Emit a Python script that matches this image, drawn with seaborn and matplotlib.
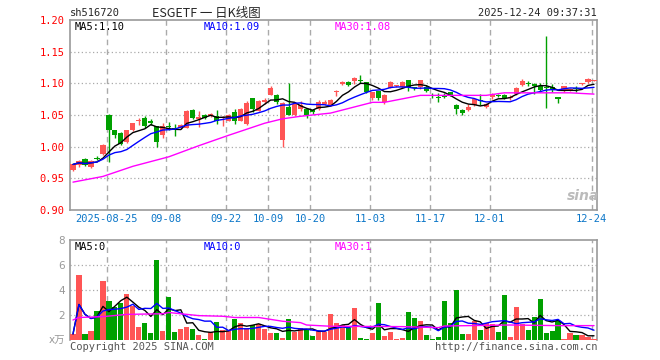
import numpy as np
import pandas as pd
import matplotlib
matplotlib.use("Agg")
import matplotlib.pyplot as plt
import seaborn as sns

# daily candles, 2025-08-15 .. 2025-12-24
opens = [0.963, 0.971, 0.980, 0.968, 0.982, 0.988, 1.050, 1.026, 1.022, 1.008,
         1.026, 1.040, 1.046, 1.041, 1.032, 1.018, 1.032, 1.029, 1.029, 1.030,
         1.058, 1.044, 1.050, 1.048, 1.049, 1.046, 1.041, 1.054, 1.041, 1.036,
         1.077, 1.057, 1.070, 1.082, 1.082, 1.010, 1.062, 1.050, 1.059, 1.060,
         1.058, 1.060, 1.068, 1.066, 1.086, 1.099, 1.102, 1.104, 1.106, 1.102,
         1.077, 1.088, 1.070, 1.093, 1.096, 1.094, 1.105, 1.0925, 1.094, 1.095,
         1.080, 1.077, 1.0795, 1.0865, 1.066, 1.058, 1.058, 1.066, 1.0725, 1.062,
         1.079, 1.0812, 1.082, 1.077, 1.083, 1.097, 1.1005, 1.099, 1.0965, 1.095,
         1.095, 1.0785, 1.088, 1.089, 1.0912, 1.0985, 1.1025, 1.104]
closes = [0.972, 0.977, 0.971, 0.978, 0.981, 1.002, 1.026, 1.018, 1.004, 1.026,
          1.037, 1.041, 1.033, 1.037, 1.008, 1.033, 1.031, 1.028, 1.035, 1.057,
          1.046, 1.047, 1.046, 1.052, 1.040, 1.047, 1.050, 1.040, 1.060, 1.069,
          1.060, 1.072, 1.074, 1.093, 1.070, 1.069, 1.050, 1.068, 1.066, 1.050,
          1.054, 1.071, 1.071, 1.074, 1.0875, 1.102, 1.098, 1.109, 1.1035, 1.086,
          1.0865, 1.077, 1.082, 1.102, 1.097, 1.102, 1.094, 1.092, 1.105, 1.0885,
          1.0795, 1.0765, 1.079, 1.082, 1.060, 1.0535, 1.062, 1.0745, 1.0715, 1.068,
          1.083, 1.0807, 1.0765, 1.079, 1.093, 1.1035, 1.0995, 1.096, 1.090, 1.092,
          1.091, 1.0755, 1.0955, 1.091, 1.091, 1.099, 1.107, 1.1045]
highs = [0.973, 0.979, 0.982, 0.979, 0.985, 1.004, 1.051, 1.026, 1.023, 1.027,
         1.038, 1.046, 1.048, 1.044, 1.033, 1.038, 1.039, 1.036, 1.036, 1.058,
         1.059, 1.056, 1.052, 1.053, 1.058, 1.048, 1.051, 1.060, 1.061, 1.072,
         1.077, 1.074, 1.077, 1.096, 1.083, 1.070, 1.100, 1.070, 1.072, 1.061,
         1.059, 1.074, 1.074, 1.075, 1.089, 1.104, 1.104, 1.110, 1.113, 1.102,
         1.087, 1.088, 1.083, 1.103, 1.098, 1.103, 1.106, 1.095, 1.106, 1.097,
         1.084, 1.084, 1.084, 1.087, 1.067, 1.059, 1.0675, 1.076, 1.083, 1.069,
         1.084, 1.083, 1.083, 1.082, 1.094, 1.107, 1.104, 1.100, 1.101, 1.1755,
         1.099, 1.079, 1.096, 1.092, 1.096, 1.101, 1.109, 1.106]
lows = [0.962, 0.968, 0.969, 0.966, 0.979, 0.987, 0.976, 1.013, 1.002, 1.006,
        1.025, 1.034, 1.030, 1.034, 0.999, 1.013, 1.027, 1.017, 1.028, 1.029,
        1.044, 1.031, 1.044, 1.047, 1.036, 1.032, 1.040, 1.036, 1.040, 1.035,
        1.055, 1.056, 1.068, 1.081, 1.068, 1.000, 1.050, 1.049, 1.057, 1.046,
        1.052, 1.058, 1.066, 1.065, 1.080, 1.097, 1.096, 1.099, 1.100, 1.085,
        1.074, 1.073, 1.067, 1.092, 1.095, 1.093, 1.0885, 1.090, 1.091, 1.086,
        1.077, 1.070, 1.077, 1.080, 1.052, 1.0505, 1.057, 1.064, 1.066, 1.061,
        1.075, 1.079, 1.076, 1.074, 1.082, 1.096, 1.096, 1.083, 1.086, 1.0615,
        1.086, 1.069, 1.086, 1.088, 1.087, 1.097, 1.101, 1.1035]
volumes = [0.48, 5.2, 0.48, 0.72, 2.32, 4.72, 3.12, 2.64, 2.96, 3.68,
           2.75, 1.07, 1.36, 0.56, 6.4, 0.72, 3.44, 0.64, 0.88, 1.07,
           0.88, 0.4, 0.08, 0.61, 1.44, 0.8, 0.72, 1.68, 1.36, 0.96,
           1.2, 1.28, 0.88, 0.56, 0.56, 0.16, 1.68, 0.67, 0.96, 0.8,
           0.32, 0.72, 0.67, 2.08, 1.36, 1.2, 0.96, 2.56, 0.16, 0.08,
           0.56, 2.96, 0.32, 0.64, 0.08, 0.16, 2.24, 1.76, 1.52, 0.4,
           0.08, 0.24, 3.12, 1.36, 4.0, 0.48, 0.48, 1.52, 0.8, 1.36,
           1.28, 0.64, 3.6, 0.24, 2.64, 1.28, 0.8, 1.84, 3.28, 0.56,
           0.72, 1.52, 0.08, 0.56, 0.4, 0.4, 0.24, 0.08]

# MA30 lines (they depend on data before the window)
ma30_price_idx = [0, 5, 10, 16, 21, 26, 32, 35, 38, 43, 50, 52, 58, 69, 72, 83, 87]
ma30_price_val = [0.944, 0.953, 0.969, 0.984, 1.0015, 1.018, 1.037, 1.044, 1.048,
                  1.053, 1.070, 1.070, 1.081, 1.081, 1.085, 1.085, 1.083]
ma30_vol_idx = [0, 1, 5, 9, 15, 16, 19, 21, 25, 27, 31, 33, 35, 38, 39, 43,
                55, 61, 62, 73, 81, 87]
ma30_vol_val = [1.6, 1.8, 1.87, 2.05, 2.1, 2.2, 2.05, 1.95, 1.9, 1.8, 1.8, 1.65,
                1.5, 1.39, 1.2, 1.1, 1.07, 0.99, 1.12, 1.2, 1.15, 1.15]

date_labels = ["2025-08-25", "09-08", "09-22", "10-09", "10-20", "11-03", "11-17", "12-01", "12-24"]
date_idx = [6, 16, 26, 33, 40, 50, 60, 70, 87]

RED = "#ff5555"
GREEN = "#00a000"
GRID = "#aaaaaa"
MONO = "DejaVu Sans Mono"

df = pd.DataFrame({"open": opens, "close": closes, "high": highs, "low": lows, "vol": volumes})
df["x"] = np.arange(len(df))
df["up"] = df["close"] > df["open"]
df["color"] = np.where(df["up"], RED, GREEN)
df["ma5"] = df["close"].rolling(5, min_periods=1).mean()
df["ma10"] = df["close"].rolling(10, min_periods=1).mean()
df["vma5"] = df["vol"].rolling(5, min_periods=1).mean()
df["vma10"] = df["vol"].rolling(10, min_periods=1).mean()

sns.set_style("white")
plt.rcParams["font.family"] = [MONO, "Noto Sans CJK SC"]

fig = plt.figure(figsize=(6.6, 3.6), dpi=100)
ax1 = fig.add_axes([70 / 660, 1 - 210 / 360, 527 / 660, 190 / 360])
ax2 = fig.add_axes([70 / 660, 1 - 340 / 360, 527 / 660, 100 / 360])

# candles
ax1.vlines(df["x"], df["low"], df["high"], colors=df["color"], lw=1, zorder=3)
body = (df["close"] - df["open"]).abs().clip(lower=0.0016)
ax1.bar(df["x"], body, bottom=df[["open", "close"]].min(axis=1), width=0.86,
        color=df["color"], linewidth=0, zorder=4)

sns.lineplot(x=df["x"], y=df["ma5"], ax=ax1, color="black", lw=1, zorder=5)
sns.lineplot(x=df["x"], y=df["ma10"], ax=ax1, color="#0000ff", lw=1, zorder=5)
sns.lineplot(x=ma30_price_idx, y=ma30_price_val, ax=ax1, color="#ff00ff", lw=1, zorder=5)

# volume
ax2.bar(df["x"], df["vol"], width=0.86, color=df["color"], linewidth=0, zorder=3)
sns.lineplot(x=df["x"], y=df["vma5"], ax=ax2, color="black", lw=1, zorder=5)
sns.lineplot(x=df["x"], y=df["vma10"], ax=ax2, color="#0000ff", lw=1, zorder=5)
sns.lineplot(x=ma30_vol_idx, y=ma30_vol_val, ax=ax2, color="#ff00ff", lw=1, zorder=5)

for ax in (ax1, ax2):
    ax.set_xlim(-0.5, len(df) - 0.5)
    ax.set_xlabel("")
    ax.set_ylabel("")
    for s in ax.spines.values():
        s.set_color("#999999")
        s.set_linewidth(1.2)
    for d in date_idx:
        ax.axvline(d - 0.4, color=GRID, lw=1, ls=(0, (4, 3)), zorder=1)
    ax.tick_params(length=0)

ax1.set_ylim(0.90, 1.20)
yt = np.arange(0.90, 1.201, 0.05)
ax1.set_yticks(yt)
ax1.set_yticklabels(["%.2f" % v for v in yt], color="#ff0000", fontsize=7.5, family=MONO)
for v in yt[1:-1]:
    ax1.axhline(v, color=GRID, lw=0.9, ls=(0, (1, 2)), zorder=1)
ax1.set_xticks([d - 0.4 for d in date_idx])
ax1.set_xticklabels(date_labels, color="#0b76c8", fontsize=7.5, family=MONO)
ax1.tick_params(axis="x", pad=3)
ax1.tick_params(axis="y", pad=4)

ax2.set_ylim(0, 8)
ax2.set_yticks([0, 2, 4, 6, 8])
ax2.set_yticklabels(["x万", "2", "4", "6", "8"], color="#999999", fontsize=7.5,
                    family=["DejaVu Sans", "Noto Sans CJK SC"])
for v in [2, 4, 6]:
    ax2.axhline(v, color=GRID, lw=0.9, ls=(0, (1, 2)), zorder=1)
ax2.set_xticks([])
ax2.spines["bottom"].set_visible(False)

# header and legends
def px(x, y):
    return x / 660, 1 - y / 360

fs = 7.5
fig.text(*px(70, 13), "sh516720", fontsize=fs, va="center", ha="left")
fig.text(*px(206, 13), "ESGETF 一 日K线图", fontsize=9, va="center", ha="center",
         family=["Noto Sans CJK SC", "DejaVu Sans"])
fig.text(*px(597, 13), "2025-12-24 09:37:31", fontsize=fs, va="center", ha="right")
fig.text(*px(75, 27), "MA5:1.10", fontsize=fs, va="center", color="black")
fig.text(*px(204, 27), "MA10:1.09", fontsize=fs, va="center", color="#0000ff")
fig.text(*px(335, 27), "MA30:1.08", fontsize=fs, va="center", color="#ff00ff")
fig.text(*px(75, 247), "MA5:0", fontsize=fs, va="center", color="black")
fig.text(*px(204, 247), "MA10:0", fontsize=fs, va="center", color="#0000ff")
fig.text(*px(335, 247), "MA30:1", fontsize=fs, va="center", color="#ff00ff")
fig.text(*px(70, 347), "Copyright 2025 SINA.COM", fontsize=fs, va="center", color="#555555")
fig.text(*px(597, 347), "http://finance.sina.com.cn", fontsize=fs, va="center", ha="right", color="#555555")
fig.text(*px(583, 196), "sina", fontsize=10, va="center", ha="center", color="#bbbbbb",
         style="italic", weight="bold", family="DejaVu Sans")

fig.savefig("out.png", dpi=100)
